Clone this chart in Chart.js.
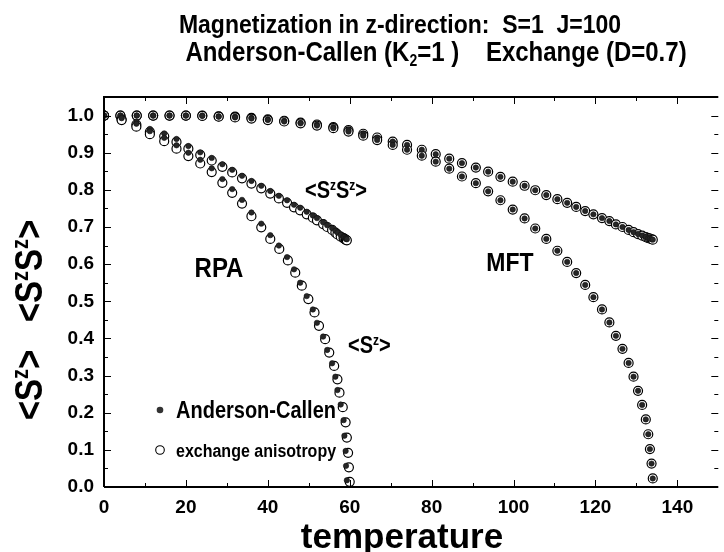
<!DOCTYPE html>
<html>
<head>
<meta charset="utf-8">
<script src="https://cdn.jsdelivr.net/npm/chart.js@4"></script>
<style>
  html, body { margin: 0; padding: 0; background: #fff; }
  #wrap { width: 724px; height: 552px; position: relative; }
</style>
</head>
<body>
<div id="wrap"><canvas id="magChart"></canvas></div>
<script>
// temperatures of the computed points (shared by <Sz> and <SzSz>)
const rpaTemp = [0, 4.3, 7.9, 11.2, 14.7, 17.7, 20.6, 23.5, 26.3, 28.9, 31.3, 33.7, 36.0, 38.4, 40.6, 42.7, 44.7,
    46.4, 47.9, 49.5, 51.0, 52.0, 53.5, 54.5, 55.7, 56.5, 57.0, 57.8, 58.5, 58.7, 59.0, 59.1, 59.3];
const rpaTempEx = [0, 4.3, 7.9, 11.2, 14.7, 17.7, 20.6, 23.5, 26.3, 28.9, 31.3, 33.7, 36.0, 38.4, 40.6, 42.8, 44.9,
    46.7, 48.3, 49.9, 51.4, 52.5, 54.0, 55.0, 56.2, 57.0, 57.5, 58.3, 59.0, 59.3, 59.6, 59.8, 60.0];
const mftTemp = [0, 4, 8, 12, 16, 20, 24, 28, 32, 36, 40, 44, 48, 52, 56,
    59.7, 63.3, 66.7, 70.5, 74.0, 77.6, 81.0, 84.3, 87.4, 90.8, 93.8, 96.8, 99.8, 102.7, 105.3, 108.0,
    110.7, 113.1, 115.3, 117.5, 119.5, 121.6, 123.4, 125.0, 126.6, 128.1, 129.3, 130.4, 131.4, 132.3, 132.9, 133.3, 133.7, 134.0];

// RPA, Anderson-Callen
const rpaSzAC = [1.0, 0.993, 0.978, 0.958, 0.940, 0.920, 0.900, 0.881, 0.858, 0.829, 0.802, 0.773, 0.739, 0.709, 0.678, 0.650, 0.619,
    0.586, 0.550, 0.514, 0.478, 0.442, 0.405, 0.369, 0.333, 0.297, 0.261, 0.222, 0.180, 0.138, 0.097, 0.057, 0.018];
const rpaSzSzAC = [1.0, 0.995, 0.983, 0.964, 0.952, 0.937, 0.918, 0.901, 0.886, 0.869, 0.854, 0.838, 0.824, 0.811, 0.797, 0.784, 0.772,
    0.760, 0.752, 0.741, 0.731, 0.724, 0.713, 0.705, 0.697, 0.690, 0.685, 0.679, 0.674, 0.672, 0.670, 0.668, 0.667];
// RPA, exchange anisotropy
const rpaSzEx = [1.0, 0.988, 0.970, 0.950, 0.931, 0.911, 0.891, 0.871, 0.848, 0.819, 0.792, 0.763, 0.729, 0.699, 0.668, 0.641, 0.610,
    0.577, 0.542, 0.506, 0.470, 0.434, 0.398, 0.362, 0.326, 0.290, 0.254, 0.215, 0.174, 0.133, 0.092, 0.053, 0.014];
const rpaSzSzEx = [1.0, 0.990, 0.976, 0.956, 0.944, 0.929, 0.911, 0.894, 0.879, 0.862, 0.847, 0.831, 0.817, 0.804, 0.790, 0.777, 0.765,
    0.753, 0.745, 0.734, 0.725, 0.718, 0.708, 0.700, 0.692, 0.685, 0.680, 0.674, 0.670, 0.668, 0.666, 0.665, 0.664];
// MFT (both methods sit on top of each other)
const mftSz = [1.0, 1.0, 1.0, 1.0, 1.0, 1.0, 0.999, 0.997, 0.995, 0.992, 0.988, 0.984, 0.979, 0.973, 0.966,
    0.957, 0.946, 0.934, 0.921, 0.908, 0.892, 0.876, 0.857, 0.836, 0.818, 0.796, 0.772, 0.747, 0.723, 0.696, 0.668,
    0.636, 0.606, 0.576, 0.544, 0.511, 0.478, 0.443, 0.407, 0.372, 0.334, 0.297, 0.259, 0.221, 0.182, 0.142, 0.102, 0.063, 0.023];
const mftSzSz = [1.0, 1.0, 1.0, 1.0, 1.0, 1.0, 1.0, 0.998, 0.997, 0.994, 0.990, 0.986, 0.981, 0.976, 0.969,
    0.961, 0.951, 0.941, 0.930, 0.921, 0.908, 0.896, 0.884, 0.872, 0.860, 0.849, 0.835, 0.822, 0.811, 0.799, 0.786,
    0.775, 0.765, 0.754, 0.743, 0.734, 0.724, 0.716, 0.707, 0.700, 0.692, 0.686, 0.681, 0.677, 0.673, 0.670, 0.669, 0.667, 0.666];

const xTicks = [0, 20, 40, 60, 80, 100, 120, 140];
const yTicks = [0.0, 0.1, 0.2, 0.3, 0.4, 0.5, 0.6, 0.7, 0.8, 0.9, 1.0];

const FONT = '"Liberation Sans", Arial, Helvetica, sans-serif';
const STRETCH = 1.15; // reference lettering is taller than Arial at the same width

function pts(xs, ys) {
    return xs.map((x, i) => ({ x: x, y: ys[i] }));
}
function filled(label, data) {
    return { label, data, order: 0, pointRadius: 2.7, pointBackgroundColor: '#262626', pointBorderColor: '#111', pointBorderWidth: 0.6, showLine: false, clip: 0 };
}
function open(label, data) {
    return { label, data, order: 1, pointRadius: 4.5, pointBackgroundColor: '#fff', pointBorderColor: '#000', pointBorderWidth: 1.2, showLine: false, clip: 0 };
}

// text with super/subscripts: parts = [[text, mode], ...]
function drawRich(ctx, parts, x, y, size, align) {
    const small = Math.round(size * 0.6);
    let w = 0;
    parts.forEach(p => {
        ctx.font = 'bold ' + (p[1] ? small : size) + 'px ' + FONT;
        w += ctx.measureText(p[0]).width;
    });
    let cx = align === 'center' ? x - w / 2 : (align === 'right' ? x - w : x);
    ctx.save();
    ctx.translate(0, y);
    ctx.scale(1, STRETCH);
    ctx.textAlign = 'left';
    ctx.textBaseline = 'alphabetic';
    parts.forEach(p => {
        ctx.font = 'bold ' + (p[1] ? small : size) + 'px ' + FONT;
        let dy = 0;
        if (p[1] === 'sup') dy = -size * 0.36;
        if (p[1] === 'sub') dy = size * 0.18;
        ctx.fillText(p[0], cx, size * 0.36 + dy);
        cx += ctx.measureText(p[0]).width;
    });
    ctx.restore();
}

const decor = {
    id: 'decor',
    afterDraw(chart) {
        const ctx = chart.ctx;
        const a = chart.chartArea;
        const xs = chart.scales.x, ys = chart.scales.y;
        ctx.save();
        ctx.fillStyle = '#000';
        ctx.strokeStyle = '#000';

        // frame
        ctx.lineWidth = 2;
        ctx.beginPath();
        ctx.moveTo(a.left, a.bottom); ctx.lineTo(a.right, a.bottom);
        ctx.moveTo(a.left, a.bottom); ctx.lineTo(a.left, a.top);
        ctx.moveTo(a.left - 1, a.top); ctx.lineTo(a.right, a.top);
        ctx.stroke();

        // inward ticks
        ctx.lineWidth = 1;
        ctx.beginPath();
        for (let v = 10; v < 150; v += 10) {
            const px = Math.round(xs.getPixelForValue(v)) + 0.5;
            const len = v % 20 === 0 ? 7 : 4;
            ctx.moveTo(px, a.bottom); ctx.lineTo(px, a.bottom - len);
            ctx.moveTo(px, a.top); ctx.lineTo(px, a.top + len);
        }
        for (let k = 1; k <= 20; k++) {
            const v = k * 0.05;
            const py = Math.round(ys.getPixelForValue(v)) + 0.5;
            const len = k % 2 === 0 ? 7 : 4;
            ctx.moveTo(a.left, py); ctx.lineTo(a.left + len, py);
            ctx.moveTo(a.right, py); ctx.lineTo(a.right - len, py);
        }
        ctx.stroke();

        // titles
        drawRich(ctx, [['Magnetization in z-direction:  S=1  J=100', '']], 400, 23, 23, 'center');
        drawRich(ctx, [['Anderson-Callen (K', ''], ['2', 'sub'], ['=1 )    Exchange (D=0.7)', '']], 436, 51, 24, 'center');

        // axis titles
        ctx.font = 'bold 35px ' + FONT;
        ctx.textAlign = 'center';
        ctx.textBaseline = 'alphabetic';
        ctx.fillText('temperature', 402, 548);

        ctx.save();
        ctx.translate(28, 320);
        ctx.rotate(-Math.PI / 2);
        drawRich(ctx, [['<S', ''], ['z', 'sup'], ['>   <S', ''], ['z', 'sup'], ['S', ''], ['z', 'sup'], ['>', '']], 0, 0, 33, 'center');
        ctx.restore();

        // curve labels
        drawRich(ctx, [['RPA', '']], 219, 267, 24, 'center');
        drawRich(ctx, [['MFT', '']], 510, 261, 23, 'center');
        drawRich(ctx, [['<S', ''], ['z', 'sup'], ['S', ''], ['z', 'sup'], ['>', '']], 305, 190, 20, 'left');
        drawRich(ctx, [['<S', ''], ['z', 'sup'], ['>', '']], 348, 345, 20, 'left');

        // legend
        ctx.beginPath();
        ctx.arc(160, 410, 3.3, 0, Math.PI * 2);
        ctx.fillStyle = '#333';
        ctx.fill();
        ctx.beginPath();
        ctx.arc(160, 450, 4.3, 0, Math.PI * 2);
        ctx.fillStyle = '#fff';
        ctx.fill();
        ctx.lineWidth = 1.1;
        ctx.stroke();
        ctx.fillStyle = '#000';
        drawRich(ctx, [['Anderson-Callen', '']], 176, 410, 20, 'left');
        drawRich(ctx, [['exchange anisotropy', '']], 176, 450, 16, 'left');

        ctx.restore();
    }
};

new Chart(document.getElementById('magChart'), {
    type: 'scatter',
    data: {
        datasets: [
            filled('RPA <Sz> Anderson-Callen', pts(rpaTemp, rpaSzAC)),
            filled('RPA <SzSz> Anderson-Callen', pts(rpaTemp, rpaSzSzAC)),
            filled('MFT <Sz> Anderson-Callen', pts(mftTemp, mftSz)),
            filled('MFT <SzSz> Anderson-Callen', pts(mftTemp, mftSzSz)),
            open('RPA <Sz> exchange anisotropy', pts(rpaTempEx, rpaSzEx)),
            open('RPA <SzSz> exchange anisotropy', pts(rpaTemp, rpaSzSzEx)),
            open('MFT <Sz> exchange anisotropy', pts(mftTemp, mftSz)),
            open('MFT <SzSz> exchange anisotropy', pts(mftTemp, mftSzSz))
        ]
    },
    options: {
        responsive: true,
        maintainAspectRatio: false,
        animation: false,
        events: [],
        layout: { padding: { left: 0, top: 97, right: -2, bottom: 0 } },
        plugins: { legend: { display: false }, title: { display: false }, tooltip: { enabled: false } },
        scales: {
            x: {
                type: 'linear', min: 0, max: 150,
                grid: { display: false, drawTicks: false },
                border: { display: false },
                afterFit(scale) { scale.height = 65; },
                afterBuildTicks(scale) { scale.ticks = xTicks.map(v => ({ value: v })); },
                ticks: {
                    padding: 9, color: '#000', maxRotation: 0,
                    font: { family: FONT, size: 19, weight: 'bold' },
                    callback: v => String(v)
                }
            },
            y: {
                type: 'linear', min: 0, max: 1.05,
                grid: { display: false, drawTicks: false },
                border: { display: false },
                afterFit(scale) { scale.width = 104; },
                afterBuildTicks(scale) { scale.ticks = yTicks.map(v => ({ value: v })); },
                ticks: {
                    padding: 10, color: '#000',
                    font: { family: FONT, size: 19, weight: 'bold' },
                    callback: v => Number(v).toFixed(1)
                }
            }
        }
    },
    plugins: [decor]
});
</script>
</body>
</html>
